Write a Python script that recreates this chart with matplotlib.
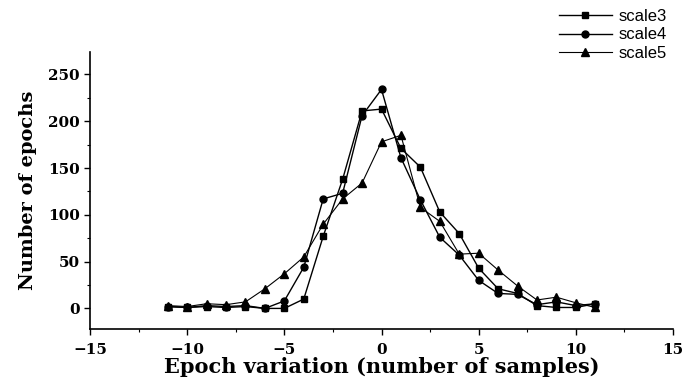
import matplotlib
matplotlib.use("Agg")
import matplotlib.pyplot as plt
from matplotlib.ticker import MultipleLocator

x = list(range(-11, 12))
scale3 = [2, 1, 2, 1, 2, 0, 0, 10, 77, 138, 211, 213, 171, 151, 103, 80, 43, 21, 16, 3, 1, 1, 5]
scale4 = [2, 1, 3, 2, 3, 0, 8, 44, 117, 123, 206, 234, 161, 116, 76, 57, 30, 16, 15, 4, 7, 3, 5]
scale5 = [3, 2, 5, 4, 7, 21, 37, 55, 90, 117, 134, 178, 185, 108, 93, 58, 59, 41, 24, 9, 12, 6, 1]
labels = ["scale3", "scale4", "scale5"]
xticks = [-15, -10, -5, 0, 5, 10, 15]
yticks = [0, 50, 100, 150, 200, 250]

fig = plt.figure(figsize=(6.95, 3.83), dpi=100)
ax = fig.add_axes([90/695, 54/383, 583/695, 277/383])

ax.plot(x, scale3, color="black", lw=1.0, marker="s", ms=4.5, label=labels[0])
ax.plot(x, scale4, color="black", lw=1.0, marker="o", ms=5, label=labels[1])
ax.plot(x, scale5, color="black", lw=0.8, marker="^", ms=5.5, label=labels[2])

ax.set_xlim(-15, 15)
ax.set_ylim(-22, 274)
ax.set_xticks(xticks)
ax.set_yticks(yticks)
ax.xaxis.set_minor_locator(MultipleLocator(2.5))
ax.yaxis.set_minor_locator(MultipleLocator(25))
ax.tick_params(which="major", direction="out", length=4, width=1)
ax.tick_params(axis="x", which="major", pad=6)
ax.tick_params(which="minor", direction="out", length=2, width=0.8)
for sp in ["top", "right"]:
    ax.spines[sp].set_visible(False)
for sp in ["left", "bottom"]:
    ax.spines[sp].set_linewidth(1.2)

for lab in ax.get_xticklabels() + ax.get_yticklabels():
    lab.set_fontfamily("DejaVu Serif")
    lab.set_fontweight("bold")
    lab.set_fontsize(11)

ax.set_xlabel("Epoch variation (number of samples)", fontfamily="DejaVu Serif",
              fontweight="bold", fontsize=15, labelpad=0)
ax.set_ylabel("Number of epochs", fontfamily="DejaVu Serif",
              fontweight="bold", fontsize=14, labelpad=8)

leg = fig.legend(loc="upper right", bbox_to_anchor=(676/695, 1.0), frameon=False,
                 prop={"family": "Liberation Sans", "size": 12},
                 handlelength=3.2, labelspacing=0.2, handletextpad=0.4, borderaxespad=0.15)

fig.savefig("out.png", dpi=100)
